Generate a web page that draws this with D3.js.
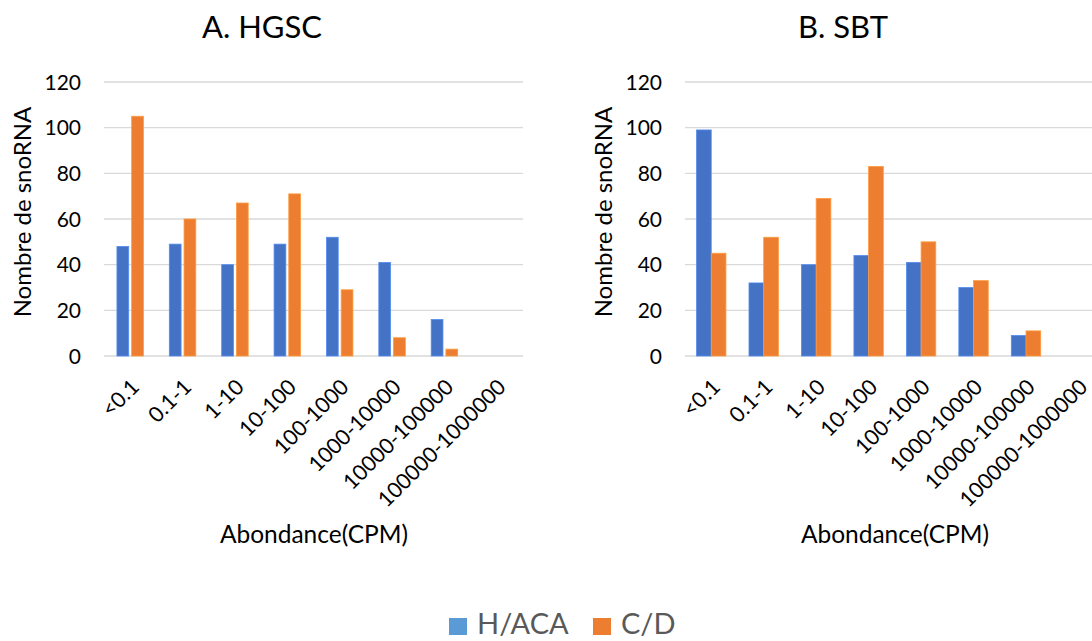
<!DOCTYPE html>
<html>
<head>
<meta charset="utf-8">
<script src="https://cdn.jsdelivr.net/npm/d3@7"></script>
<style>
  html, body { margin: 0; padding: 0; background: #fff; }
  svg { display: block; }
  text { font-family: Lato, "Noto Sans", sans-serif; }
</style>
</head>
<body>
<svg id="chart" width="1092" height="641"></svg>
<script>
// Abundance classes (CPM)
const categories = ["<0.1", "0.1-1", "1-10", "10-100", "100-1000", "1000-10000", "10000-100000", "100000-1000000"];
const seriesNames = ["H/ACA", "C/D"];
const yTicks = [0, 20, 40, 60, 80, 100, 120];

// Number of snoRNAs per class
const hgscHACA = [48, 49, 40, 49, 52, 41, 16, 0];
const hgscCD   = [105, 60, 67, 71, 29, 8, 3, 0];
const sbtHACA  = [99, 32, 40, 44, 41, 30, 9, 0];
const sbtCD    = [45, 52, 69, 83, 50, 33, 11, 0];

const barColors = ["#4472C4", "#ED7D31"];
const legendColors = ["#5B9BD5", "#ED7D31"];

const svg = d3.select("#chart");

function drawPanel(cfg) {
  const g = svg.append("g");
  const x0 = d3.scaleBand().domain(categories).range([cfg.left, cfg.right]).paddingInner(0).paddingOuter(0);
  const x1 = d3.scaleBand().domain(seriesNames)
    .range([-cfg.group / 2, cfg.group / 2]).paddingInner(cfg.gap).paddingOuter(0);
  const y = d3.scaleLinear().domain([0, 120]).range([356, 82]);

  // horizontal gridlines
  g.append("g").selectAll("line").data(yTicks).join("line")
    .attr("x1", cfg.left).attr("x2", cfg.right)
    .attr("y1", d => y(d)).attr("y2", d => y(d))
    .attr("stroke", "#D9D9D9").attr("stroke-width", 1.3);

  // y tick labels
  g.append("g").selectAll("text").data(yTicks).join("text")
    .attr("x", cfg.left - 23).attr("y", d => y(d))
    .attr("dy", "0.36em").attr("text-anchor", "end")
    .attr("font-size", 21).attr("fill", "#000")
    .text(d => d);

  // bars
  const series = [cfg.a, cfg.b];
  series.forEach((vals, si) => {
    g.append("g").selectAll("rect").data(vals).join("rect")
      .attr("x", (d, i) => x0(categories[i]) + x0.bandwidth() / 2 + x1(seriesNames[si]))
      .attr("width", x1.bandwidth())
      .attr("y", d => y(d))
      .attr("height", d => y(0) - y(d))
      .attr("fill", barColors[si])
      .attr("stroke", d3.color(barColors[si]).brighter(0.6))
      .attr("stroke-width", 0.8)
      .attr("display", d => d > 0 ? null : "none");
  });

  // category labels, rotated
  g.append("g").selectAll("text").data(categories).join("text")
    .attr("transform", d => `translate(${x0(d) + x0.bandwidth() / 2 + 5},${383}) rotate(-45)`)
    .attr("text-anchor", "end").attr("dy", "0.35em")
    .attr("font-size", 21.5).attr("fill", "#000")
    .text(d => d);

  // titles
  g.append("text").attr("x", cfg.titleX).attr("y", 38)
    .attr("text-anchor", "middle").attr("font-size", 31).attr("fill", "#000")
    .text(cfg.title);
  g.append("text").attr("x", cfg.titleX + 52).attr("y", 543)
    .attr("text-anchor", "middle").attr("font-size", 24.5).attr("fill", "#000")
    .text("Abondance(CPM)");
  g.append("text")
    .attr("transform", `translate(${cfg.left - 81},212) rotate(-90)`)
    .attr("text-anchor", "middle").attr("dy", "0.35em")
    .attr("font-size", 24).attr("fill", "#000")
    .text("Nombre de snoRNA");
}

drawPanel({ left: 104, right: 523, group: 26.5, gap: 0.2, a: hgscHACA, b: hgscCD, title: "A. HGSC", titleX: 262 });
drawPanel({ left: 685, right: 1104.7, group: 29.4, gap: 0, a: sbtHACA, b: sbtCD, title: "B. SBT", titleX: 843 });

// legend
const legend = svg.append("g");
const legendItems = [{ x: 449, w: 92 }, { x: 593, w: 52 }];
seriesNames.forEach((name, i) => {
  legend.append("rect").attr("x", legendItems[i].x).attr("y", 618)
    .attr("width", 18).attr("height", 17).attr("fill", legendColors[i]);
  legend.append("text").attr("x", legendItems[i].x + 28).attr("y", 634)
    .attr("font-size", 29).attr("fill", "#595959")
    .text(name);
});
</script>
</body>
</html>
